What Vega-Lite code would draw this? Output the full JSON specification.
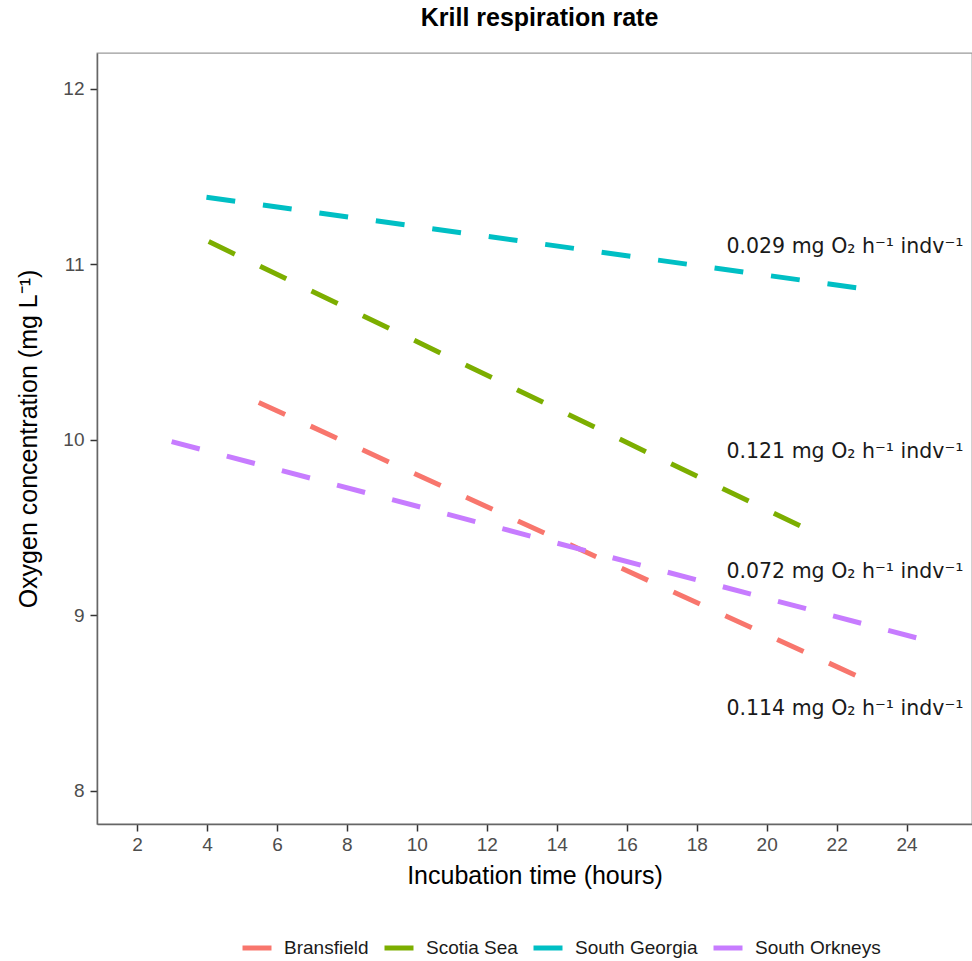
{
  "$schema": "https://vega.github.io/schema/vega-lite/v6.json",
  "width": 875,
  "height": 771,
  "autosize": {"type": "none"},
  "padding": {"left": 97, "top": 53, "right": 0, "bottom": 137},
  "background": "white",
  "title": {"text": "Krill respiration rate", "font": "Liberation Sans", "fontSize": 25, "fontWeight": "bold", "color": "#000000", "anchor": "middle", "offset": 22, "dx": 5},
  "config": {
    "view": {"stroke": "#9a9a9a", "strokeWidth": 1.3},
    "legend": {"symbolDash": [100, 0]},
    "axis": {"grid": false, "domainColor": "#666666", "domainWidth": 1.5, "tickColor": "#333333", "tickWidth": 1.5, "tickSize": 7, "labelFont": "Liberation Sans", "labelFontSize": 19, "labelColor": "#4d4d4d", "titleFont": "Liberation Sans", "titleFontSize": 25, "titleFontWeight": "normal", "titleColor": "#000000"}
  },
  "datasets": {
    "lines": [
      {"site": "Bransfield", "time": 5.48, "oxygen": 10.213},
      {"site": "Bransfield", "time": 22.77, "oxygen": 8.637},
      {"site": "Scotia Sea", "time": 4.05, "oxygen": 11.13},
      {"site": "Scotia Sea", "time": 21.32, "oxygen": 9.475},
      {"site": "South Georgia", "time": 3.985, "oxygen": 11.383},
      {"site": "South Georgia", "time": 22.81, "oxygen": 10.86},
      {"site": "South Orkneys", "time": 2.99, "oxygen": 9.99},
      {"site": "South Orkneys", "time": 24.52, "oxygen": 8.859}
    ],
    "labels": [
      {"label": "0.029 mg O₂ h⁻¹ indv⁻¹", "time": 18.85, "oxygen": 11.065},
      {"label": "0.121 mg O₂ h⁻¹ indv⁻¹", "time": 18.85, "oxygen": 9.894},
      {"label": "0.072 mg O₂ h⁻¹ indv⁻¹", "time": 18.85, "oxygen": 9.2125},
      {"label": "0.114 mg O₂ h⁻¹ indv⁻¹", "time": 18.85, "oxygen": 8.4315}
    ]
  },
  "layer": [
    {
      "data": {"name": "lines"},
      "transform": [{"filter": "datum.time < 0"}],
      "mark": {"type": "line", "strokeWidth": 5, "strokeCap": "butt"},
      "encoding": {
        "x": {"field": "time", "type": "quantitative", "scale": {"domain": [0.856, 25.87], "nice": false, "zero": false}, "axis": {"title": "Incubation time (hours)", "values": [2, 4, 6, 8, 10, 12, 14, 16, 18, 20, 22, 24], "labelPadding": 4, "titlePadding": 9}},
        "y": {"field": "oxygen", "type": "quantitative", "scale": {"domain": [7.81, 12.205], "nice": false, "zero": false}, "axis": {"title": "Oxygen concentration (mg L⁻¹)", "values": [8, 9, 10, 11, 12], "format": "d", "labelPadding": 6, "titlePadding": 21}},
        "color": {"field": "site", "type": "nominal", "scale": {"domain": ["Bransfield", "Scotia Sea", "South Georgia", "South Orkneys"], "range": ["#F8766D", "#7CAE00", "#00BFC4", "#C77CFF"]}, "legend": {"title": null, "orient": "none", "direction": "horizontal", "legendX": 143, "legendY": 878, "symbolType": "stroke", "symbolSize": 841, "symbolStrokeWidth": 5, "symbolDash": [100, 0], "labelFont": "Liberation Sans", "labelFontSize": 19, "labelColor": "#1a1a1a", "labelOffset": 10, "columnPadding": 5, "encode": {"symbols": {"update": {"strokeDash": {"value": [100, 0]}, "strokeCap": {"value": "butt"}}}}}}
      }
    },
    {
      "data": {"name": "lines"},
      "mark": {"type": "line", "strokeWidth": 5, "strokeDash": [29, 28], "strokeCap": "butt"},
      "encoding": {
        "x": {"field": "time", "type": "quantitative"},
        "y": {"field": "oxygen", "type": "quantitative"},
        "stroke": {"field": "site", "type": "nominal", "scale": {"domain": ["Bransfield", "Scotia Sea", "South Georgia", "South Orkneys"], "range": ["#F8766D", "#7CAE00", "#00BFC4", "#C77CFF"]}, "legend": null}
      }
    },
    {
      "data": {"name": "labels"},
      "mark": {"type": "text", "align": "left", "baseline": "alphabetic", "font": "DejaVu Sans", "fontSize": 20.5, "color": "#1a1a1a"},
      "encoding": {
        "x": {"field": "time", "type": "quantitative"},
        "y": {"field": "oxygen", "type": "quantitative"},
        "text": {"field": "label"}
      }
    }
  ]
}
